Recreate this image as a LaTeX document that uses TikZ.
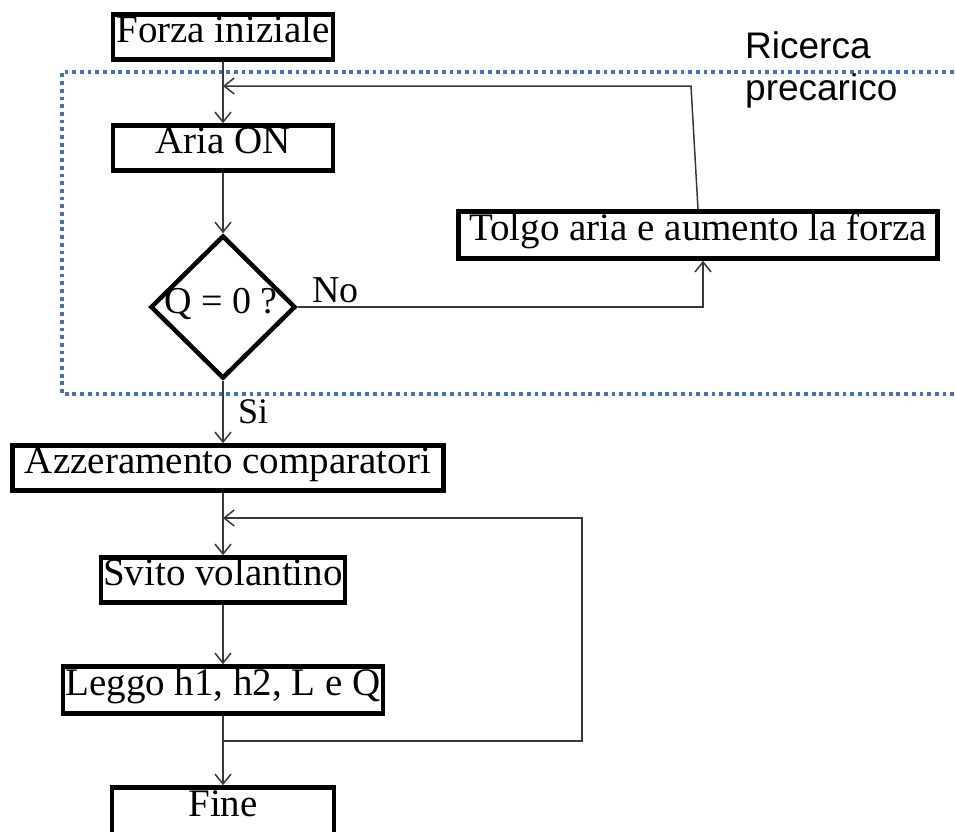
\documentclass[tikz,border=0pt]{standalone}
\usepackage{fontspec}
\setmainfont{Liberation Serif}
\newfontfamily\arialfont{Liberation Sans}
\usetikzlibrary{shapes.geometric,arrows.meta,calc}
\definecolor{dotblue}{HTML}{4472B0}
\definecolor{conn}{HTML}{383838}
\begin{document}
\begin{tikzpicture}[x=1pt,y=-1pt,
  box/.style={draw=black, fill=white, line width=4.5pt, rectangle, inner sep=0pt,
              text height=26pt, text depth=16pt, font=\fontsize{39}{44}\selectfont},
  flow/.style={draw=conn, line width=1.5pt, -{Straight Barb[length=10pt,width=16pt,line width=1.5pt]}},
  lbl/.style={font=\fontsize{38}{44}\selectfont, inner sep=0pt}]
\clip (0,0) rectangle (955,831);
% region
\draw[dotblue, line width=3.5pt, dash pattern=on 3.8pt off 3.9pt] (1000,72) -- (62,72) -- (62,394) -- (1000,394);
% nodes
\node[box, minimum width=220pt, minimum height=45pt] (forza) at (223,37) {Forza iniziale};
\node[box, minimum width=220pt, minimum height=45pt] (aria) at (223,148) {Aria ON};
\node[diamond, draw=black, line width=4.5pt, inner sep=0pt, minimum width=145pt, minimum height=143pt] (q) at (223,307) {};
\node[lbl, anchor=base] (qt) at (221,313) {Q = 0 ?};
\node[box, minimum width=479pt, minimum height=47pt] (tolgo) at (698,235) {Tolgo aria e aumento la forza};
\node[box, minimum width=431pt, minimum height=45pt] (azz) at (228,468) {Azzeramento comparatori};
\node[box, minimum width=244pt, minimum height=45pt] (svito) at (223,580) {Svito volantino};
\node[box, minimum width=320pt, minimum height=47pt] (leggo) at (223,690) {Leggo h1, h2, L e Q};
\node[box, minimum width=222pt, minimum height=47pt] (fine) at (223,811) {Fine};
% labels
\node[lbl, anchor=base west] (no) at (312,302) {No};
\node[lbl, font=\fontsize{36}{40}\selectfont, anchor=base west] (si) at (238,423) {Si};
\node[inner sep=0pt, anchor=north west, align=left, font=\arialfont\fontsize{37}{42}\selectfont] (ric) at (745,31) {Ricerca\\precarico};
% coordinates
\coordinate (tin) at ([xshift=5pt]tolgo.south);
\coordinate (tk) at (691,86);
\coordinate (ain) at (aria.north |- tk);
\coordinate (lb) at (223,741);
\coordinate (lr) at (582,741);
\coordinate (lt) at (582,518);
\coordinate (li) at (223,518);
% connectors
\draw[flow] (forza.south) -- (aria.north);
\draw[flow] (aria.south) -- (q.north);
\draw[flow] (q.east) -| (tin);
\draw[flow] (tolgo.north) -- (tk) -- (ain);
\draw[flow] (q.south) -- (q.south |- azz.north);
\draw[flow] (azz.south -| svito.north) -- (svito.north);
\draw[flow] (svito.south) -- (leggo.north);
\draw[flow] (leggo.south) -- (fine.north);
\draw[flow] (lb) -- (lr) -- (lt) -- (li);
\end{tikzpicture}
\end{document}
